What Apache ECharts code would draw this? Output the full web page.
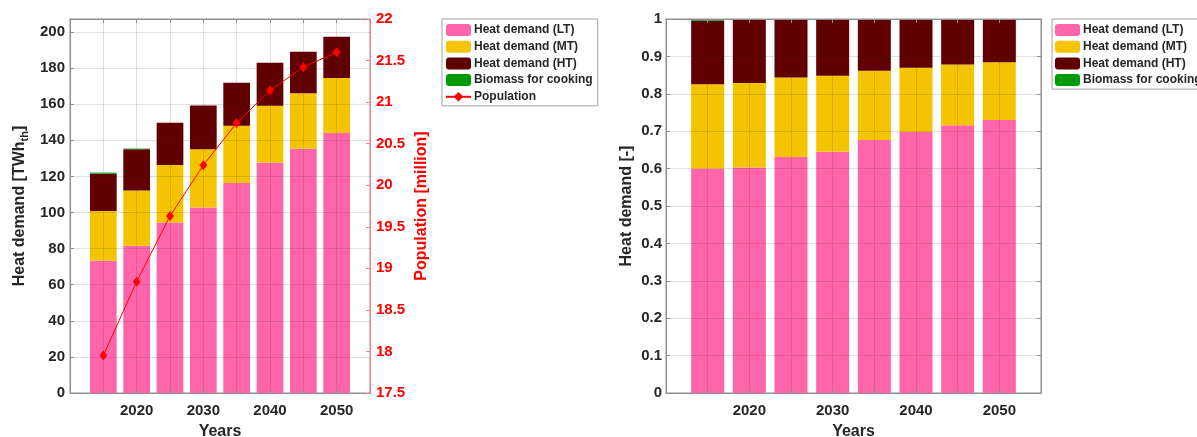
<!DOCTYPE html>
<html>
<head>
<meta charset="utf-8">
<script src="https://cdn.jsdelivr.net/npm/echarts@6/dist/echarts.min.js"></script>
<style>
  html, body { margin: 0; padding: 0; background: #fff; }
  #chart { width: 1197px; height: 437px; }
</style>
</head>
<body>
<div id="chart"></div>
<script>
// Scenario years (bar positions)
const years = [2015, 2020, 2025, 2030, 2035, 2040, 2045, 2050];

// Year axis runs from 2010 to 2055 in 5-year steps
const axisYears = [2010, 2015, 2020, 2025, 2030, 2035, 2040, 2045, 2050, 2055];

// Heat demand by temperature level, TWh_th
const heatLT = [73.3, 81.6, 94.5, 102.8, 116.3, 127.6, 135.3, 144.0];
const heatMT = [27.5, 30.6, 31.8, 32.3, 31.8, 31.5, 30.7, 30.5];
const heatHT = [20.7, 22.9, 23.4, 24.2, 23.8, 23.8, 23.0, 22.8];
const biomassCooking = [0.6, 0.3, 0, 0, 0, 0, 0, 0];

// Population, million
const population = [17.95, 18.84, 19.63, 20.24, 20.75, 21.14, 21.42, 21.60];

// Tick labels shown on the year axis
const yearTickLabels = [2020, 2030, 2040, 2050];

const NAMES = ['Heat demand (LT)', 'Heat demand (MT)', 'Heat demand (HT)', 'Biomass for cooking'];
const COLORS = ['#ff66aa', '#f5c400', '#600000', '#009a0a'];
const RED = '#ff0000';
const TXT = '#262626';
const AX = '#8f8f8f';
const GRIDC = 'rgba(38,38,38,0.15)';
const FONT = '"Liberation Sans", Arial, Helvetica, sans-serif';

const parts = [heatLT, heatMT, heatHT, biomassCooking];
const totals = years.map((_, i) => parts.reduce((s, p) => s + p[i], 0));

// Place a per-year series onto the axis categories ('-' where there is no data)
const onAxis = fn => axisYears.map(y => {
  const i = years.indexOf(y);
  return i >= 0 ? fn(i) : '-';
});
const values = arr => onAxis(i => arr[i]);
const shares = arr => onAxis(i => arr[i] / totals[i]);

const yearLabel = v => (yearTickLabels.indexOf(Number(v)) >= 0 ? String(v) : '');

function yearAxis(gridIndex) {
  return {
    type: 'category', gridIndex, position: 'bottom', data: axisYears.map(String), boundaryGap: false, z: 5,
    axisLine: { show: true, onZero: false, lineStyle: { color: AX, width: 1 } },
    axisTick: { show: true, inside: true, length: 4, interval: 0, lineStyle: { color: AX } },
    axisLabel: { interval: 0, formatter: yearLabel, margin: 10, color: TXT, fontSize: 15, fontWeight: 'bold', fontFamily: FONT },
    splitLine: { show: true, interval: 0, lineStyle: { color: GRIDC, width: 1 } },
    name: 'Years', nameLocation: 'middle', nameGap: 29,
    nameTextStyle: { color: TXT, fontSize: 16, fontWeight: 'bold', fontFamily: FONT, lineHeight: 18 }
  };
}
function topAxis(gridIndex) {
  return {
    type: 'category', gridIndex, position: 'top', data: axisYears.map(String), boundaryGap: false, z: 5,
    axisLine: { show: true, onZero: false, lineStyle: { color: AX, width: 1 } },
    axisTick: { show: true, inside: true, length: 4, interval: 0, lineStyle: { color: AX } },
    axisLabel: { show: false }, splitLine: { show: false }
  };
}

const legendCommon = {
  orient: 'vertical', top: 19, itemWidth: 25, itemHeight: 12, itemGap: 4.7,
  padding: [5, 5, 3, 3], borderColor: '#a0a0a0', borderWidth: 1, backgroundColor: '#fff',
  selectedMode: false,
  textStyle: { color: TXT, fontSize: 12, fontWeight: 'bold', fontFamily: FONT, lineHeight: 12, padding: [0, 0, 0, -2] }
};

const series = [];
parts.forEach((arr, k) => {
  series.push({
    type: 'bar', name: NAMES[k], xAxisIndex: 0, yAxisIndex: 0, stack: 'abs',
    barWidth: 26.7, itemStyle: { color: COLORS[k] }, data: values(arr)
  });
});
series.push({
  type: 'line', name: 'Population', xAxisIndex: 0, yAxisIndex: 1, z: 10,
  symbol: 'diamond', symbolSize: [8, 10],
  lineStyle: { color: RED, width: 1 }, itemStyle: { color: RED },
  data: values(population)
});
parts.forEach((arr, k) => {
  series.push({
    type: 'bar', name: NAMES[k], xAxisIndex: 2, yAxisIndex: 2, stack: 'share',
    barWidth: 33, itemStyle: { color: COLORS[k] }, data: shares(arr)
  });
});

const option = {
  animation: false,
  backgroundColor: '#fff',
  textStyle: { fontFamily: FONT },
  grid: [
    { left: 70, top: 19, width: 300, height: 374, show: true, borderColor: AX, borderWidth: 1,
      containLabel: false, outerBoundsMode: 'none' },
    { left: 666, top: 19, width: 375, height: 374, show: true, borderColor: AX, borderWidth: 1,
      containLabel: false, outerBoundsMode: 'none' }
  ],
  legend: [
    Object.assign({}, legendCommon, { left: 442, data: NAMES.concat(['Population']) }),
    Object.assign({}, legendCommon, { left: 1052, data: NAMES.slice() })
  ],
  xAxis: [yearAxis(0), topAxis(0), yearAxis(1), topAxis(1)],
  yAxis: [
    {
      type: 'value', gridIndex: 0, position: 'left', min: 0, max: 207.2, interval: 20, z: 5,
      axisLine: { show: true, lineStyle: { color: AX } },
      axisTick: { show: true, inside: true, length: 4, lineStyle: { color: AX } },
      axisLabel: { formatter: v => (v % 20 === 0 ? String(v) : ''), showMaxLabel: false, margin: 5,
        color: TXT, fontSize: 15, fontWeight: 'bold', fontFamily: FONT },
      splitLine: { show: true, lineStyle: { color: GRIDC } },
      name: 'Heat demand [TWh{s|th}]', nameLocation: 'middle', nameGap: 40, nameRotate: 90,
      nameTextStyle: { color: TXT, fontSize: 16, fontWeight: 'bold', fontFamily: FONT, lineHeight: 20,
        rich: { s: { color: TXT, fontSize: 11, fontWeight: 'bold', fontFamily: FONT, lineHeight: 12, verticalAlign: 'bottom' } } }
    },
    {
      type: 'value', gridIndex: 0, position: 'right', min: 17.5, max: 22, interval: 0.5, z: 5,
      axisLine: { show: true, lineStyle: { color: '#ff8080' } },
      axisTick: { show: true, inside: true, length: 4, lineStyle: { color: '#ff8080' } },
      axisLabel: { margin: 6, color: RED, fontSize: 15, fontWeight: 'bold', fontFamily: FONT },
      splitLine: { show: false },
      name: 'Population [million]', nameLocation: 'middle', nameGap: 43, nameRotate: 90,
      nameTextStyle: { color: RED, fontSize: 16, fontWeight: 'bold', fontFamily: FONT, lineHeight: 18 }
    },
    {
      type: 'value', gridIndex: 1, position: 'left', min: 0, max: 1, interval: 0.1, z: 5,
      axisLine: { show: true, lineStyle: { color: AX } },
      axisTick: { show: true, inside: true, length: 4, lineStyle: { color: AX } },
      axisLabel: { margin: 4, color: TXT, fontSize: 15, fontWeight: 'bold', fontFamily: FONT },
      splitLine: { show: true, lineStyle: { color: GRIDC } },
      name: 'Heat demand [-]', nameLocation: 'middle', nameGap: 30, nameRotate: 90,
      nameTextStyle: { color: TXT, fontSize: 16, fontWeight: 'bold', fontFamily: FONT, lineHeight: 18 }
    },
    {
      type: 'value', gridIndex: 1, position: 'right', min: 0, max: 1, interval: 0.1, z: 5,
      axisLine: { show: true, lineStyle: { color: AX } },
      axisTick: { show: true, inside: true, length: 4, lineStyle: { color: AX } },
      axisLabel: { show: false }, splitLine: { show: false }
    }
  ],
  series
};

const chart = echarts.init(document.getElementById('chart'), null, { renderer: 'canvas' });
chart.setOption(option);
</script>
</body>
</html>
